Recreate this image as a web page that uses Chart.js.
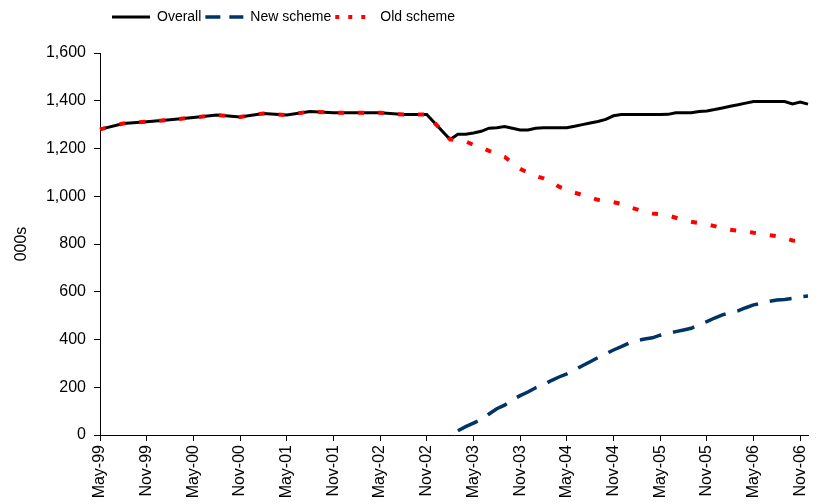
<!DOCTYPE html>
<html>
<head>
<meta charset="utf-8">
<script src="https://cdn.jsdelivr.net/npm/chart.js@4.4.1/dist/chart.umd.min.js"></script>
<style>
  html, body { margin: 0; padding: 0; background: #fff; }
  #wrap { width: 818px; height: 504px; position: relative; }
</style>
</head>
<body>
<div id="wrap"><canvas id="c" width="818" height="504"></canvas></div>
<script>
// Months May-99 .. Dec-06
const months = [
  "May-99","Jun-99","Jul-99","Aug-99","Sep-99","Oct-99","Nov-99","Dec-99",
  "Jan-00","Feb-00","Mar-00","Apr-00","May-00","Jun-00","Jul-00","Aug-00","Sep-00","Oct-00","Nov-00","Dec-00",
  "Jan-01","Feb-01","Mar-01","Apr-01","May-01","Jun-01","Jul-01","Aug-01","Sep-01","Oct-01","Nov-01","Dec-01",
  "Jan-02","Feb-02","Mar-02","Apr-02","May-02","Jun-02","Jul-02","Aug-02","Sep-02","Oct-02","Nov-02","Dec-02",
  "Jan-03","Feb-03","Mar-03","Apr-03","May-03","Jun-03","Jul-03","Aug-03","Sep-03","Oct-03","Nov-03","Dec-03",
  "Jan-04","Feb-04","Mar-04","Apr-04","May-04","Jun-04","Jul-04","Aug-04","Sep-04","Oct-04","Nov-04","Dec-04",
  "Jan-05","Feb-05","Mar-05","Apr-05","May-05","Jun-05","Jul-05","Aug-05","Sep-05","Oct-05","Nov-05","Dec-05",
  "Jan-06","Feb-06","Mar-06","Apr-06","May-06","Jun-06","Jul-06","Aug-06","Sep-06","Oct-06","Nov-06","Dec-06"
];

const n = null;
// Overall (000s) - quarterly to Feb-03, monthly afterwards
const overall = [
  1280, n, n, 1305, n, n, 1312, n, n, 1320, n, n,
  1330, n, n, 1340, n, n, 1332, n, n, 1347, n, n,
  1340, n, n, 1355, n, n, 1350, n, n, 1350, n, n,
  1350, n, n, 1342, n, n, 1342, n, n, 1238, 1260, 1260,
  1265, 1272, 1285, 1287, 1292, 1285, 1278, 1278, 1285, 1287, 1287, 1287,
  1287, 1293, 1300, 1307, 1313, 1322, 1337, 1342, 1342, 1342, 1342, 1342,
  1342, 1343, 1350, 1350, 1350, 1355, 1357, 1363, 1370, 1377, 1383, 1390,
  1397, 1397, 1397, 1397, 1397, 1387, 1395, 1386
];

// New scheme (000s)
const newScheme = [
  n, n, n, n, n, n, n, n, n, n, n, n,
  n, n, n, n, n, n, n, n, n, n, n, n,
  n, n, n, n, n, n, n, n, n, n, n, n,
  n, n, n, n, n, n, n, n, n, n, 18, 35,
  50, 65, 88, 110, 125, 147, 165, 180, 198, 210, 228, 243,
  256, 272, 290, 307, 324, 340, 356, 370, 385, 395, 402, 407,
  418, 425, 433, 440, 447, 462, 475, 490, 503, 512, 520, 533,
  545, 552, 560, 565, 568, 572, 579, 582
];

// Old scheme (000s)
const oldScheme = [
  1280, n, n, 1305, n, n, 1312, n, n, 1320, n, n,
  1330, n, n, 1340, n, n, 1332, n, n, 1347, n, n,
  1340, n, n, 1355, n, n, 1350, n, n, 1350, n, n,
  1350, n, n, 1342, n, n, 1342, n, n, 1238, 1235, 1230,
  1215, 1205, 1190, 1178, 1165, 1140, 1115, 1098, 1085, 1075, 1060, 1040,
  1027, 1015, 1005, 995, 985, 980, 975, 968, 955, 945, 935, 928,
  925, 920, 910, 900, 893, 888, 882, 875, 866, 860, 856, 853,
  847, 842, 837, 833, 825, 815, 812, 812
];

const yTicks = [0, 200, 400, 600, 800, 1000, 1200, 1400, 1600];

const FONT = "'Liberation Sans', Arial, sans-serif";
const legendDash = [[], [15, 9], [4, 9]];
const legendWidth = [3, 3.5, 4];

const layoutFix = {
  id: 'layoutFix',
  beforeLayout(chart) {
    const lg = chart.legend;
    if (lg && !lg._patched) {
      const f = lg.fit;
      lg.fit = function () { f.call(this); this.height = 53; };
      lg._patched = true;
    }
  },
  afterLayout(chart) {
    const lg = chart.legend;
    if (lg) { lg.left = 108; lg.top = 6; }
  }
};

new Chart(document.getElementById('c'), {
  type: 'line',
  data: {
    labels: months,
    datasets: [
      { label: 'Overall', data: overall, borderColor: '#000000', backgroundColor: '#000000',
        borderWidth: 3, pointRadius: 0, spanGaps: true, order: 2 },
      { label: 'New scheme', data: newScheme, borderColor: '#003366', backgroundColor: '#003366',
        borderWidth: 3.5, borderDash: [22, 12], pointRadius: 0, spanGaps: true, order: 1 },
      { label: 'Old scheme', data: oldScheme, borderColor: '#FF0000', backgroundColor: '#FF0000',
        borderWidth: 4, borderDash: [6, 14], pointRadius: 0, spanGaps: true, order: 0 }
    ]
  },
  options: {
    responsive: false,
    animation: false,
    layout: { padding: { left: 0, right: 10, top: 0, bottom: 0 } },
    plugins: {
      tooltip: { enabled: false },
      legend: {
        display: true,
        position: 'top',
        align: 'start',
        labels: {
          usePointStyle: true,
          pointStyle: 'line',
          pointStyleWidth: 38,
          boxHeight: 14,
          padding: 4,
          color: '#000',
          font: { family: FONT, size: 14 },
          sort: (a, b) => a.datasetIndex - b.datasetIndex,
          generateLabels(chart) {
            const items = Chart.defaults.plugins.legend.labels.generateLabels(chart);
            items.forEach(it => {
              const ds = chart.data.datasets[it.datasetIndex];
              it.lineDash = legendDash[it.datasetIndex];
              it.lineWidth = legendWidth[it.datasetIndex];
              it.strokeStyle = ds.borderColor;
              it.fillStyle = ds.borderColor;
              it.pointStyle = 'line';
              it.lineCap = 'butt';
            });
            return items;
          }
        }
      }
    },
    scales: {
      x: {
        type: 'category',
        offset: false,
        afterFit(scale) { scale.height = 69; scale.paddingLeft = 0; scale.paddingRight = 0; },
        grid: {
          drawOnChartArea: false,
          drawTicks: true,
          tickLength: 6,
          color: (ctx) => (ctx.index % 6 === 0 ? '#000' : 'rgba(0,0,0,0)')
        },
        border: { display: true, color: '#000', width: 1 },
        ticks: {
          autoSkip: false,
          maxRotation: 90,
          minRotation: 90,
          padding: 4,
          color: '#000',
          font: { family: FONT, size: 16 },
          callback: function (value, index) { return index % 6 === 0 ? months[index] : ''; }
        }
      },
      y: {
        min: 0,
        max: 1600,
        afterFit(scale) { scale.width = 100; },
        afterBuildTicks(scale) { scale.ticks = yTicks.map(v => ({ value: v })); },
        grid: { drawOnChartArea: false, drawTicks: true, tickLength: 6, color: '#000' },
        border: { display: true, color: '#000', width: 1 },
        ticks: {
          padding: 8,
          color: '#000',
          font: { family: FONT, size: 16 },
          callback: (v) => Number(v).toLocaleString('en-US')
        },
        title: {
          display: true,
          text: '000s',
          color: '#000',
          font: { family: FONT, size: 16 },
          padding: { top: 12, bottom: 0 }
        }
      }
    }
  },
  plugins: [layoutFix]
});
</script>
</body>
</html>
